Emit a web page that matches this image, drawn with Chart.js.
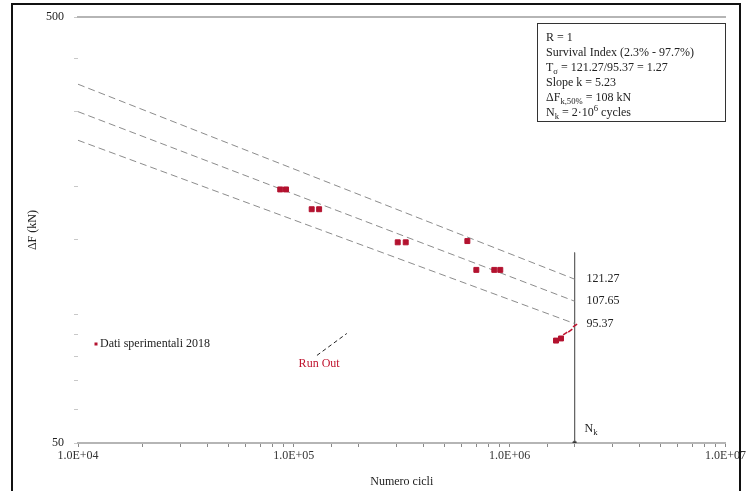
<!DOCTYPE html>
<html lang="it">
<head>
<meta charset="UTF-8" />
<title>Curva S-N</title>
<script src="https://cdn.jsdelivr.net/npm/chart.js"></script>
<style>
  html, body { margin: 0; padding: 0; background: #fff; }
</style>
</head>
<body>
<canvas id="snChart" width="748" height="491"></canvas>
<script>
// prove a fatica (cicli, carico kN)
const testCycles = [86500, 92000, 121000, 131000, 303000, 330000, 637000, 701000, 849000, 905000, 1640000, 1730000];
const testLoads  = [197, 197, 177, 177, 148, 148, 149, 127.5, 127.5, 127.5, 87, 88];
const runoutCycles = [1810000, 1910000, 2010000];
const runoutLoads  = [90.4, 91.8, 94.4];

// bande di sopravvivenza
const bandCycles = [10000, 2000000];
const bandUpper  = [348, 121.27];
const bandMedian = [300, 107.65];
const bandLower  = [257, 95.37];
const bandLabels = ['121.27', '107.65', '95.37'];

const kneeCycles = 2000000;
const kneeLoads  = [140, 50];

const arrowCycles = [128000, 176000];
const arrowLoads  = [80.3, 90.4];
const runOutLabel = 'Run Out';
const runOutLabelAt = [131000, 76.9];

const seriesName = 'Dati sperimentali 2018';
const xTickValues = [1e4, 1e5, 1e6, 1e7];
const yTickValues = [50, 500];

const infoLines = [
  [{t: 'R = 1'}],
  [{t: 'Survival Index (2.3% - 97.7%)'}],
  [{t: 'T'}, {t: 'σ', sub: true}, {t: ' = 121.27/95.37 = 1.27'}],
  [{t: 'Slope k = 5.23'}],
  [{t: 'ΔF'}, {t: 'k,50%', sub: true}, {t: ' = 108 kN'}],
  [{t: 'N'}, {t: 'k', sub: true}, {t: ' = 2·10'}, {t: '6', sup: true}, {t: ' cycles'}]
];

const FONT = '"Liberation Serif", "Times New Roman", serif';

function pts(xs, ys) {
  return xs.map((x, i) => ({x: x, y: ys[i]}));
}

function drawRich(ctx, parts, x, y, size) {
  let cx = x;
  parts.forEach(p => {
    const fs = (p.sub || p.sup) ? size * 0.72 : size;
    ctx.font = fs + 'px ' + FONT;
    const dy = p.sub ? size * 0.3 : (p.sup ? -size * 0.35 : 0);
    ctx.fillText(p.t, cx, y + dy);
    cx += ctx.measureText(p.t).width;
  });
}

const extras = {
  id: 'extras',
  beforeDraw(chart) {
    const ctx = chart.ctx;
    ctx.save();
    ctx.fillStyle = '#fff';
    ctx.fillRect(0, 0, chart.width, chart.height);
    ctx.restore();
  },
  afterDraw(chart) {
    const ctx = chart.ctx;
    const xs = chart.scales.x, ys = chart.scales.y;
    ctx.save();
    ctx.textBaseline = 'middle';

    // valori al ginocchio
    ctx.fillStyle = '#222';
    ctx.font = '12px ' + FONT;
    const ends = [bandUpper[1], bandMedian[1], bandLower[1]];
    ends.forEach((v, i) => {
      ctx.fillText(bandLabels[i], xs.getPixelForValue(kneeCycles) + 12, ys.getPixelForValue(v));
    });
    drawRich(ctx, [{t: 'N'}, {t: 'k', sub: true}], xs.getPixelForValue(kneeCycles) + 10, ys.getPixelForValue(kneeLoads[1]) - 14, 12);

    // run out
    ctx.fillStyle = '#c0142f';
    ctx.textAlign = 'center';
    ctx.font = '12px ' + FONT;
    ctx.fillText(runOutLabel, xs.getPixelForValue(runOutLabelAt[0]), ys.getPixelForValue(runOutLabelAt[1]));
    ctx.textAlign = 'left';

    // legenda serie
    const lx = 96, ly = 344;
    ctx.fillStyle = '#b3122f';
    ctx.fillRect(lx - 1.5, ly - 1.5, 3, 3);
    ctx.fillStyle = '#222';
    ctx.font = '12px ' + FONT;
    ctx.fillText(seriesName, lx + 4, ly);

    // riquadro info
    ctx.strokeStyle = '#333';
    ctx.lineWidth = 1;
    ctx.strokeRect(537.5, 23.5, 188, 98);
    ctx.fillStyle = '#222';
    infoLines.forEach((line, i) => drawRich(ctx, line, 546, 38 + i * 15, 12));

    // cornice
    ctx.strokeStyle = '#111';
    ctx.lineWidth = 2;
    ctx.beginPath();
    ctx.moveTo(12, chart.height);
    ctx.lineTo(12, 4);
    ctx.lineTo(740, 4);
    ctx.lineTo(740, chart.height);
    ctx.stroke();
    ctx.restore();
  }
};

const dashedBand = (data) => ({
  data: data,
  showLine: true,
  borderColor: '#8c8c8c',
  borderWidth: 1,
  borderDash: [7, 4],
  pointRadius: 0
});

new Chart(document.getElementById('snChart'), {
  type: 'scatter',
  data: {
    datasets: [
      {
        label: seriesName,
        data: pts(testCycles, testLoads),
        pointStyle: 'rect',
        pointRadius: 3.5,
        backgroundColor: '#b3122f',
        borderColor: '#b3122f'
      },
      {
        data: pts(runoutCycles, runoutLoads),
        pointStyle: 'line',
        pointRotation: -35,
        pointRadius: 2.5,
        borderWidth: 1.5,
        borderColor: '#c0142f'
      },
      dashedBand(pts(bandCycles, bandUpper)),
      dashedBand(pts(bandCycles, bandMedian)),
      dashedBand(pts(bandCycles, bandLower)),
      {
        data: pts([kneeCycles, kneeCycles], kneeLoads),
        showLine: true,
        borderColor: '#666',
        borderWidth: 1,
        pointRadius: [0, 2],
        backgroundColor: '#333'
      },
      {
        data: pts(arrowCycles, arrowLoads),
        showLine: true,
        borderColor: '#222',
        borderWidth: 1,
        borderDash: [4, 3],
        pointRadius: 0
      }
    ]
  },
  options: {
    responsive: false,
    animation: false,
    layout: { padding: { left: 0, right: 20, top: 15, bottom: 0 } },
    plugins: { legend: { display: false }, tooltip: { enabled: false } },
    scales: {
      x: {
        type: 'logarithmic',
        position: 'bottom',
        min: 1e4,
        max: 1e7,
        afterFit: s => { s.height = 48; },
        border: { color: '#b5b5b5', width: 2 },
        grid: { drawOnChartArea: false, tickLength: 4, color: '#888' },
        ticks: {
          autoSkip: false,
          maxRotation: 0,
          padding: 2,
          color: '#333',
          font: { family: FONT, size: 12 },
          callback: v => xTickValues.includes(v) ? '1.0E+0' + Math.round(Math.log10(v)) : ''
        },
        title: {
          display: true,
          text: 'Numero cicli',
          color: '#222',
          font: { family: FONT, size: 12 },
          padding: { top: 0, bottom: 2 }
        }
      },
      xTop: {
        type: 'logarithmic',
        position: 'top',
        min: 1e4,
        max: 1e7,
        afterFit: s => { s.height = 0; },
        border: { color: '#b5b5b5', width: 2 },
        grid: { display: false, drawTicks: false },
        ticks: { display: false }
      },
      y: {
        type: 'logarithmic',
        min: 50,
        max: 500,
        afterFit: s => { s.width = 78; },
        border: { display: false },
        grid: { drawOnChartArea: false, tickLength: 4, color: '#c8c8c8' },
        ticks: {
          autoSkip: false,
          padding: 10,
          color: '#222',
          font: { family: FONT, size: 12 },
          callback: v => yTickValues.includes(v) ? String(v) : ''
        },
        title: {
          display: true,
          text: 'ΔF (kN)',
          color: '#222',
          font: { family: FONT, size: 12 },
          padding: { top: 26, bottom: 0 }
        }
      }
    }
  },
  plugins: [extras]
});
</script>
</body>
</html>
